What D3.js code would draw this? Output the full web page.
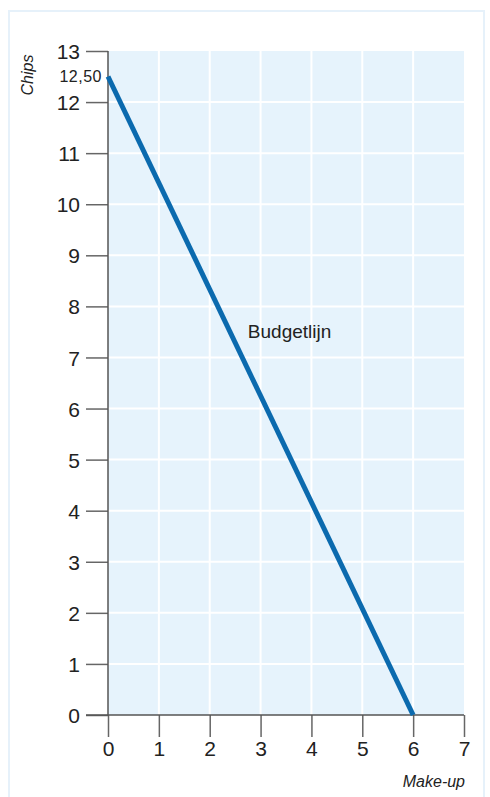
<!DOCTYPE html>
<html>
<head>
<meta charset="utf-8">
<script src="https://cdn.jsdelivr.net/npm/d3@7"></script>
<style>
  body { margin: 0; background: #fff; }
  svg text { font-family: "Liberation Sans", Arial, sans-serif; }
</style>
</head>
<body>
<div id="chart"></div>
<script>
// budget line data
var makeup = [0, 6];
var chips = [12.5, 0];
var xTicks = [0, 1, 2, 3, 4, 5, 6, 7];
var yTicks = [0, 1, 2, 3, 4, 5, 6, 7, 8, 9, 10, 11, 12, 13];
var lineLabel = "Budgetlijn";

var svgWidth = 490;
var svgHeight = 797;
var margin = { top: 51, right: 26, bottom: 82, left: 108 };
var width = svgWidth - margin.left - margin.right;
var height = svgHeight - margin.top - margin.bottom;

var svg = d3.select("#chart").append("svg")
  .attr("width", svgWidth)
  .attr("height", svgHeight);

// faint frame around the figure
svg.append("rect")
  .attr("x", 9).attr("y", 11)
  .attr("width", 475).attr("height", 790)
  .attr("fill", "none")
  .attr("stroke", "#e6f1fa")
  .attr("stroke-width", 2);

var g = svg.append("g")
  .attr("transform", `translate(${margin.left}, ${margin.top})`);

var x = d3.scaleLinear().domain([0, 7]).range([0, width]);
var y = d3.scaleLinear().domain([0, 13]).range([height, 0]);

// plot background
g.append("rect")
  .attr("width", width).attr("height", height)
  .attr("fill", "#e6f3fc");

// white grid
g.selectAll(".vgrid").data(xTicks.slice(1, -1)).enter().append("line")
  .attr("x1", d => x(d)).attr("x2", d => x(d))
  .attr("y1", 0).attr("y2", height)
  .attr("stroke", "#fff").attr("stroke-width", 2);

g.selectAll(".hgrid").data(yTicks.slice(1, -1)).enter().append("line")
  .attr("x1", 0).attr("x2", width)
  .attr("y1", d => y(d)).attr("y2", d => y(d))
  .attr("stroke", "#fff").attr("stroke-width", 2);

// axes
var xAxis = d3.axisBottom(x).tickValues(xTicks).tickSize(22).tickPadding(4)
  .tickFormat(d3.format("d"));
var yAxis = d3.axisLeft(y).tickValues(yTicks).tickSize(22).tickPadding(6)
  .tickFormat(d3.format("d"));

var gx = g.append("g")
  .attr("transform", `translate(0, ${height})`)
  .call(xAxis);
var gy = g.append("g").call(yAxis);

[gx, gy].forEach(function(a) {
  a.select(".domain").remove();
  a.selectAll(".tick line").attr("stroke", "#666").attr("stroke-width", 1.5);
  a.selectAll(".tick text").attr("fill", "#222").attr("font-size", "21px");
});
gy.selectAll(".tick text").attr("dy", "0.36em");

// axis lines
g.append("line")
  .attr("x1", 0).attr("x2", 0).attr("y1", 0).attr("y2", height)
  .attr("stroke", "#555").attr("stroke-width", 1.5);
g.append("line")
  .attr("x1", -22).attr("x2", width).attr("y1", height).attr("y2", height)
  .attr("stroke", "#555").attr("stroke-width", 1.5);

// intercept label
g.append("text")
  .attr("x", -6).attr("y", y(chips[0]))
  .attr("dy", "0.36em")
  .attr("text-anchor", "end")
  .attr("font-size", "16px")
  .attr("letter-spacing", "0.5px")
  .attr("fill", "#222")
  .text("12,50");

// budget line
var line = d3.line().x(d => x(d[0])).y(d => y(d[1]));
g.append("path")
  .datum(d3.zip(makeup, chips))
  .attr("d", line)
  .attr("fill", "none")
  .attr("stroke", "#0b6aae")
  .attr("stroke-width", 5);

g.append("text")
  .attr("x", x(2.75)).attr("y", y(7.38))
  .attr("font-size", "19px")
  .attr("fill", "#222")
  .text(lineLabel);

// axis titles
svg.append("text")
  .attr("transform", "translate(33, 75) rotate(-90)")
  .attr("text-anchor", "middle")
  .attr("font-size", "16px")
  .attr("font-style", "italic")
  .attr("fill", "#222")
  .text("Chips");

svg.append("text")
  .attr("x", 465).attr("y", 787)
  .attr("text-anchor", "end")
  .attr("font-size", "16px")
  .attr("font-style", "italic")
  .attr("fill", "#222")
  .text("Make-up");
</script>
</body>
</html>
